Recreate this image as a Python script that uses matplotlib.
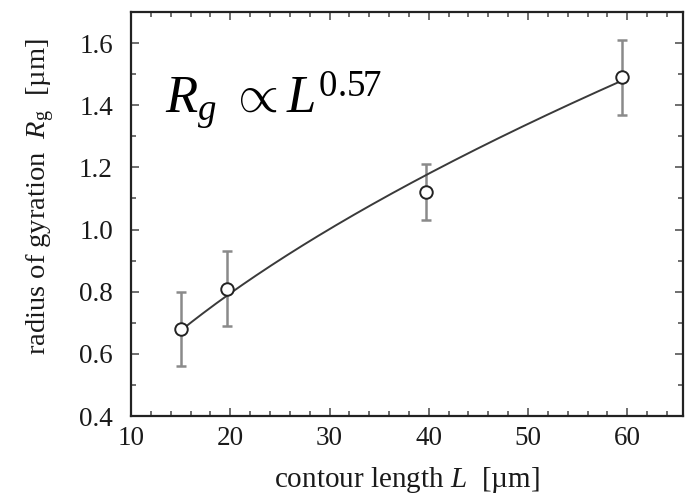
import numpy as np
import matplotlib
matplotlib.use("Agg")
from matplotlib import pyplot as plt
from matplotlib.ticker import MultipleLocator, FormatStrFormatter

plt.rcParams['font.family'] = ['Liberation Serif', 'DejaVu Serif']
plt.rcParams['mathtext.fontset'] = 'custom'
plt.rcParams['mathtext.rm'] = 'Liberation Serif'
plt.rcParams['mathtext.it'] = 'Liberation Serif:italic'

# measured contour length vs radius of gyration
L = [15.0, 19.7, 39.7, 59.5]
Rg = [0.68, 0.81, 1.12, 1.49]
Rg_err = [0.12, 0.12, 0.09, 0.12]

# power-law fit R_g = a * L^nu
nu = 0.57
a = 0.1441

fig = plt.figure(figsize=(6.95, 5.0), dpi=100)
ax = fig.add_axes([0.1885, 0.168, 0.794, 0.808])

Lfit = np.linspace(min(L), max(L), 200)
ax.plot(Lfit, a * Lfit**nu, color="#3a3a3a", linewidth=1.4, zorder=2)

ax.errorbar(L, Rg, yerr=Rg_err, fmt="none", ecolor="#8a8a8a", elinewidth=1.8,
            capsize=3.5, capthick=1.8, zorder=1)
ax.plot(L, Rg, "o", markersize=9, markerfacecolor="white",
        markeredgecolor="#222222", markeredgewidth=1.4, zorder=3)

ax.set_xlim(10, 65.6)
ax.set_ylim(0.4, 1.7)
ax.xaxis.set_major_locator(MultipleLocator(10))
ax.xaxis.set_minor_locator(MultipleLocator(2))
ax.yaxis.set_major_locator(MultipleLocator(0.2))
ax.yaxis.set_minor_locator(MultipleLocator(0.1))
ax.yaxis.set_major_formatter(FormatStrFormatter("%.1f"))
ax.tick_params(which="both", direction="in", top=True, right=True,
               labelsize=19.5, color="#555555", labelcolor="#1a1a1a")
ax.tick_params(which="major", length=6, width=1.2)
ax.tick_params(which="minor", length=3.5, width=1.2)
ax.tick_params(axis="y", which="major", pad=13)
ax.tick_params(axis="x", which="major", pad=7)
for s in ax.spines.values():
    s.set_linewidth(1.6)
    s.set_color("#222222")

ax.set_xlabel(r"contour length $L$  [µm]", fontsize=21, labelpad=10,
              color="#1a1a1a")
ax.set_ylabel(r"radius of gyration  $R_{\rm g}$  [µm]", fontsize=20.5,
              color="#1a1a1a")
ax.yaxis.set_label_coords(-0.134, 0.542)

ax.text(0.0616, 0.75, r"$R_g\ \propto L^{0.57}$", transform=ax.transAxes,
        fontsize=38, va="baseline", ha="left")

fig.savefig("out.png", dpi=100)
